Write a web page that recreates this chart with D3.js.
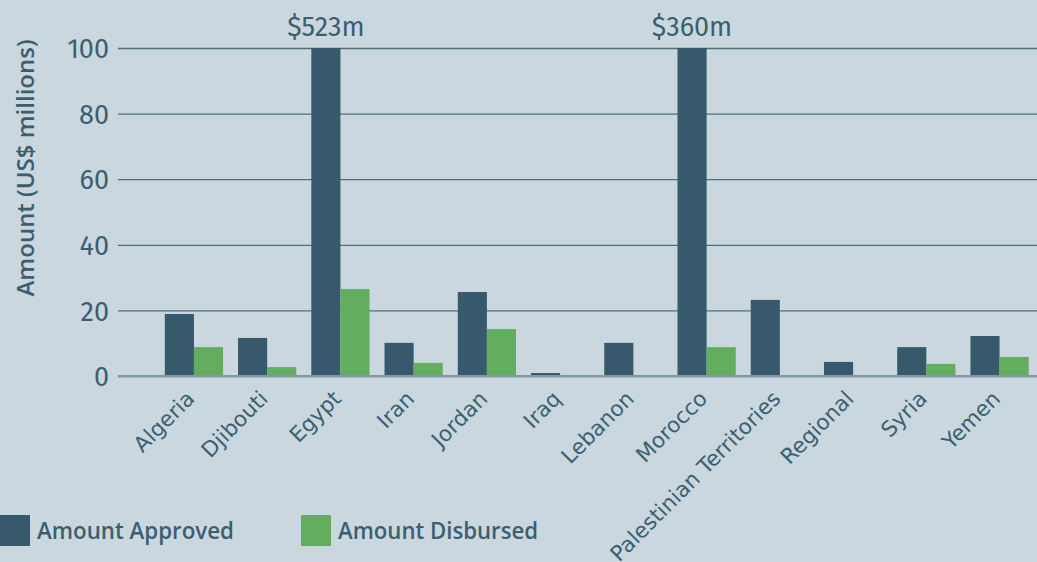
<!DOCTYPE html>
<html><head><meta charset="utf-8">
<script src="https://cdn.jsdelivr.net/npm/d3@7"></script>
<style>
html,body{margin:0;padding:0;background:#cad7df;}
svg{display:block;}
</style></head>
<body>
<svg id="chart" width="1037" height="562"></svg>
<script>
const categories = ["Algeria","Djibouti","Egypt","Iran","Jordan","Iraq","Lebanon","Morocco","Palestinian Territories","Regional","Syria","Yemen"];
const seriesNames = ["Amount Approved","Amount Disbursed"];
const approved = [18.9, 11.6, 523, 10.1, 25.6, 0.9, 10.1, 360, 23.2, 4.3, 8.8, 12.2];
const disbursed = [8.8, 2.7, 26.5, 4.0, 14.3, 0, 0, 8.8, 0, 0, 3.7, 5.8];
const yTicks = [0, 20, 40, 60, 80, 100];
const overflowLabels = ["", "", "$523m", "", "", "", "", "$360m", "", "", "", ""];
const colors = ["#365a6c", "#62ad5e"];

const textColor = "#3a5f71";
const svg = d3.select("#chart");
svg.append("rect").attr("width",1037).attr("height",562).attr("fill","#cad7df");

const y = d3.scaleLinear().domain([0,100]).range([376,48]);
const x0 = d3.scaleBand().domain(categories).range([157.5,1036]).paddingInner(0.205).paddingOuter(0.1);
const x1 = d3.scaleBand().domain(seriesNames).range([0,x0.bandwidth()]);

// gridlines
const yAxis = d3.axisLeft(y).tickValues(yTicks).tickSize(-(1037-118)).tickPadding(9);
const gy = svg.append("g").attr("transform","translate(118,0)").call(yAxis);
gy.select(".domain").remove();
gy.selectAll(".tick line").attr("stroke","#4d6f80").attr("stroke-width",1.3);
gy.selectAll(".tick").filter(d=>d===0).select("line").attr("stroke","#7f98a5").attr("stroke-width",2.2);
gy.selectAll(".tick text").attr("fill",textColor).style("font-family","'Fira Sans','Open Sans',sans-serif").style("font-size","27px").attr("dy","0.36em");

// bars
const data = categories.map((c,i)=>({c, vals:[approved[i], disbursed[i]]}));
const groups = svg.append("g").selectAll("g").data(data).join("g")
  .attr("transform", d=>`translate(${x0(d.c)},0)`);
groups.selectAll("rect").data(d=>d.vals.map((v,j)=>({v, s:seriesNames[j], j})))
  .join("rect")
  .attr("x", d=>x1(d.s))
  .attr("width", x1.bandwidth())
  .attr("y", d=>y(Math.min(d.v,100)))
  .attr("height", d=>y(0)-y(Math.min(d.v,100)))
  .attr("fill", d=>colors[d.j]);

// re-draw zero line on top
svg.append("line").attr("x1",118).attr("x2",1037).attr("y1",y(0)).attr("y2",y(0)).attr("stroke","#7f98a5").attr("stroke-width",2.2);

// overflow labels
svg.append("g").selectAll("text").data(categories.map((c,i)=>({c,l:overflowLabels[i]})).filter(d=>d.l))
  .join("text")
  .attr("x", d=>x0(d.c)+x1(seriesNames[0])+x1.bandwidth()/2)
  .attr("y", 36)
  .attr("text-anchor","middle")
  .attr("fill",textColor)
  .style("font-family","'Fira Sans','Open Sans',sans-serif")
  .style("font-size","27px")
  .text(d=>d.l);

// x labels
const xAxis = d3.axisBottom(x0).tickSize(0).tickPadding(0);
const gx = svg.append("g").attr("transform","translate(0,376)").call(xAxis);
gx.select(".domain").remove();
gx.selectAll(".tick text")
  .attr("fill",textColor)
  .style("font-family","'DejaVu Sans',sans-serif")
  .style("font-size","21.5px")
  .attr("text-anchor","end")
  .attr("dy",null).attr("y",null)
  .attr("transform","translate(2,24) rotate(-45)");

// y title
svg.append("text")
  .attr("transform","translate(34,168) rotate(-90)")
  .attr("text-anchor","middle")
  .attr("fill",textColor)
  .style("font-family","'Open Sans',sans-serif")
  .style("font-weight","600")
  .style("font-size","24px")
  .text("Amount (US$ millions)");

// legend
const legendX = [0, 301];
const lg = svg.append("g").selectAll("g").data(seriesNames).join("g")
  .attr("transform",(d,i)=>`translate(${legendX[i]},515)`);
lg.append("rect").attr("width",30).attr("height",31).attr("fill",(d,i)=>colors[i]);
lg.append("text").attr("x",37).attr("y",23.5).attr("fill",textColor)
  .style("font-family","'Open Sans',sans-serif").style("font-weight","600").style("font-size","23px")
  .attr("textLength",(d,i)=>i===0?197:200).attr("lengthAdjust","spacingAndGlyphs")
  .text(d=>d);
</script>
</body></html>
